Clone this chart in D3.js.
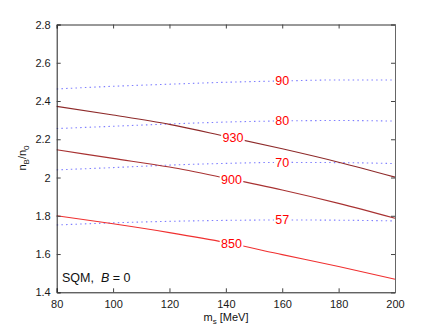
<!DOCTYPE html>
<html lang="en">
<head>
<meta charset="UTF-8" />
<script src="https://d3js.org/d3.v7.min.js"></script>
<style>
  html, body { margin: 0; padding: 0; background: #fff; }
  svg { display: block; font-family: "Liberation Sans", Arial, sans-serif; }
</style>
</head>
<body>
<svg id="chart" width="436" height="330"></svg>
<script>
// m_s values (MeV) where curves are sampled
var ms = [80, 100, 120, 140, 160, 180, 200];
// solid curves: n_B/n_0 at fixed bag energy
var e850 = [1.800, 1.758, 1.712, 1.660, 1.597, 1.535, 1.468];
var e900 = [2.145, 2.100, 2.055, 1.997, 1.935, 1.865, 1.787];
var e930 = [2.372, 2.327, 2.278, 2.215, 2.150, 2.080, 2.002];
// dotted curves
var d57 = [1.752, 1.763, 1.771, 1.776, 1.778, 1.777, 1.773];
var d70 = [2.040, 2.052, 2.065, 2.074, 2.079, 2.078, 2.073];
var d80 = [2.256, 2.268, 2.280, 2.290, 2.296, 2.298, 2.295];
var d90 = [2.463, 2.477, 2.488, 2.498, 2.505, 2.510, 2.510];
var xTicks = [80, 100, 120, 140, 160, 180, 200];
var yTicks = [1.4, 1.6, 1.8, 2.0, 2.2, 2.4, 2.6, 2.8];

var solid = [
  {name: "850", v: e850, color: "#f03030", at: 142},
  {name: "900", v: e900, color: "#a83232", at: 142},
  {name: "930", v: e930, color: "#8e2a2a", at: 142.5}
];
var dotted = [
  {name: "57", v: d57, at: 160},
  {name: "70", v: d70, at: 160},
  {name: "80", v: d80, at: 160},
  {name: "90", v: d90, at: 160}
];

var margin = {left: 56.7, right: 41, top: 24.5, bottom: 37.7};
var W = 436, H = 330;
var svg = d3.select("#chart");

var x = d3.scaleLinear().domain([80, 200]).range([margin.left, W - margin.right]);
var y = d3.scaleLinear().domain([1.4, 2.8]).range([H - margin.bottom, margin.top]);

var line = d3.line()
  .curve(d3.curveMonotoneX)
  .x(function(d) { return x(d[0]); })
  .y(function(d) { return y(d[1]); });

function pts(v) { return ms.map(function(m, i) { return [m, v[i]]; }); }
function valAt(v, m) {
  var i = Math.min(ms.length - 2, Math.floor((m - 80) / 20));
  var t = (m - ms[i]) / 20;
  return v[i] + (v[i + 1] - v[i]) * t;
}

// dotted curves
svg.append("g").selectAll("path").data(dotted).join("path")
  .attr("fill", "none")
  .attr("stroke", "#7f7fff")
  .attr("stroke-width", 1.1)
  .attr("stroke-dasharray", "1.5,3.2")
  .attr("d", function(d) { return line(pts(d.v)); });

// solid curves
svg.append("g").selectAll("path").data(solid).join("path")
  .attr("fill", "none")
  .attr("stroke", function(d) { return d.color; })
  .attr("stroke-width", 1.1)
  .attr("d", function(d) { return line(pts(d.v)); });

// contour labels with white background
var labels = solid.concat(dotted);
var lg = svg.append("g").selectAll("g").data(labels).join("g")
  .attr("transform", function(d) { return "translate(" + x(d.at) + "," + y(valAt(d.v, d.at)) + ")"; });
lg.append("rect")
  .attr("x", function(d) { return -d.name.length * 3.6 - 1; })
  .attr("y", -6)
  .attr("width", function(d) { return d.name.length * 7.2 + 2; })
  .attr("height", 12)
  .attr("fill", "#fff");
lg.append("text")
  .attr("text-anchor", "middle")
  .attr("dy", "0.36em")
  .attr("fill", "#ff0000")
  .style("font-size", "12.5px")
  .text(function(d) { return d.name; });

// axes (ticks inside, MATLAB style)
var gx = svg.append("g").attr("transform", "translate(0," + y(1.4) + ")")
  .call(d3.axisBottom(x).tickValues(xTicks).tickSize(-4).tickPadding(8).tickFormat(d3.format("d")));
var gxt = svg.append("g").attr("transform", "translate(0," + y(2.8) + ")")
  .call(d3.axisTop(x).tickValues(xTicks).tickSize(-4).tickFormat(""));
var gy = svg.append("g").attr("transform", "translate(" + x(80) + ",0)")
  .call(d3.axisLeft(y).tickValues(yTicks).tickSize(-4).tickPadding(6).tickFormat(d3.format(".1f")));
var gyr = svg.append("g").attr("transform", "translate(" + x(200) + ",0)")
  .call(d3.axisRight(y).tickValues(yTicks).tickSize(-4).tickFormat(""));

gy.selectAll(".tick text").text(function(d) { return d === 2 ? "2" : d3.format(".1f")(d); });
[gx, gxt, gy, gyr].forEach(function(g) {
  g.select(".domain").attr("stroke", "#222").attr("stroke-width", 1);
  g.selectAll(".tick line").attr("stroke", "#444");
  g.selectAll(".tick text").attr("fill", "#1a1a1a").style("font-size", "11px")
    .style("font-family", "'Liberation Sans', Arial, sans-serif");
});
gxt.select(".domain").attr("stroke", "#333");
gyr.select(".domain").attr("stroke", "#666");

// axis titles
var xl = svg.append("text")
  .attr("x", 226).attr("y", 321)
  .attr("text-anchor", "middle")
  .attr("fill", "#111")
  .style("font-size", "11px");
xl.append("tspan").text("m");
xl.append("tspan").attr("dy", 3).style("font-size", "8px").text("s");
xl.append("tspan").attr("dy", -3).text(" [MeV]");

var yl = svg.append("text")
  .attr("transform", "translate(26,158) rotate(-90)")
  .attr("text-anchor", "middle")
  .attr("fill", "#111")
  .style("font-size", "11px");
yl.append("tspan").text("n");
yl.append("tspan").attr("dy", 3).style("font-size", "8px").text("B");
yl.append("tspan").attr("dy", -3).text("/n");
yl.append("tspan").attr("dy", 3).style("font-size", "8px").text("0");

// annotation
var ann = svg.append("text")
  .attr("x", 62).attr("y", 282)
  .attr("fill", "#111")
  .style("font-size", "12.5px")
  .style("white-space", "pre");
ann.append("tspan").text("SQM,  ");
ann.append("tspan").style("font-style", "italic").text("B");
ann.append("tspan").text(" = 0");
</script>
</body>
</html>
